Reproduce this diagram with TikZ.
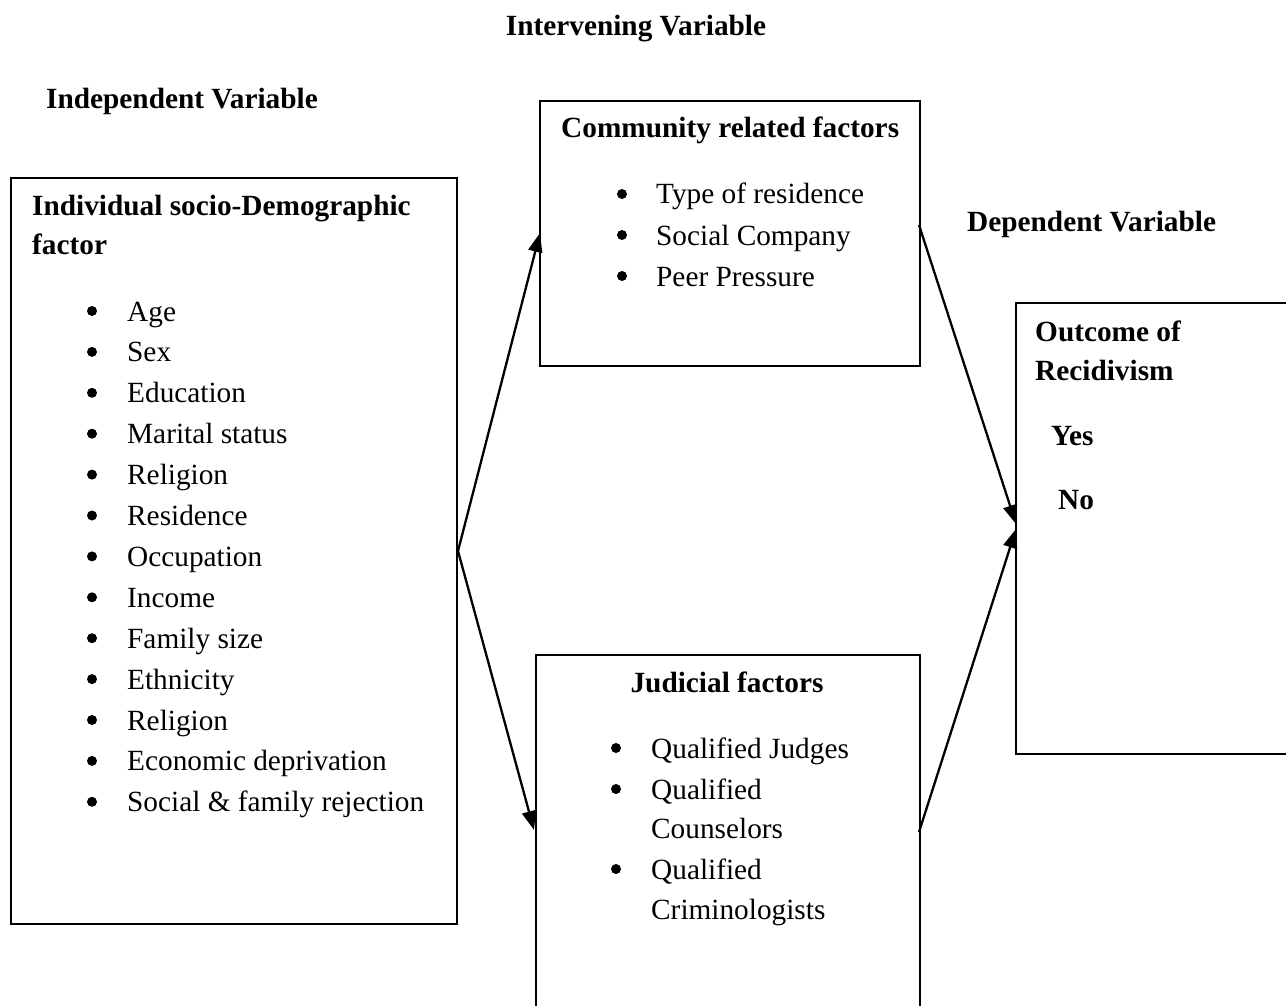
\documentclass[tikz,border=0pt]{standalone}
\usepackage{fontspec}
\setmainfont{Liberation Serif}
\usetikzlibrary{arrows.meta}
\begin{document}
\begin{tikzpicture}[x=1pt,y=-1pt,
  box/.style={draw,line width=2pt,anchor=north west,inner sep=0pt},
  txt/.style={anchor=base west,inner sep=0pt,font=\fontsize{29.3}{41}\selectfont},
  btxt/.style={txt,font=\fontsize{29.3}{41}\selectfont\bfseries},
  dot/.style={circle,fill,inner sep=0pt,minimum size=10pt},
  arr/.style={line width=2.3pt,-{Triangle[length=19pt,width=14pt]}}]
\useasboundingbox (0,0) rectangle (1286,1006);
\clip (0,0) rectangle (1286,1006);
% headings
\node[btxt,anchor=base] (hint) at (636,36) {Intervening Variable};
\node[btxt] (hind) at (46,109) {Independent Variable};
\node[btxt] (hdep) at (967,231) {Dependent Variable};
% boxes
\node[box,minimum width=446pt,minimum height=746pt] (ind) at (10,177) {};
\node[box,minimum width=380pt,minimum height=265pt] (comm) at (539,100) {};
\node[box,minimum width=384pt,minimum height=380pt] (jud) at (535,654) {};
\node[box,minimum width=320pt,minimum height=451pt] (out) at (1015,302) {};
% individual box
\node[btxt] (indt1) at (32,215) {Individual socio-Demographic};
\node[btxt] (indt2) at (32,254) {factor};
\foreach \t [count=\i from 0] in {Age,Sex,Education,Marital status,Religion,Residence,Occupation,Income,Family size,Ethnicity,Religion,Economic deprivation,Social \& family rejection}{
  \node[dot] (indb\i) at (92,{311+40.9*\i}) {};
  \node[txt] (indi\i) at (127,{321+40.9*\i}) {\t};
}
% community box
\node[btxt] (commt) at (561,138) {Community related factors};
\foreach \t [count=\i from 0] in {Type of residence,Social Company,Peer Pressure}{
  \node[dot] (commb\i) at (622,{194+41*\i}) {};
  \node[txt] (commi\i) at (656,{204+41*\i}) {\t};
}
% judicial box
\node[btxt,anchor=base] (judt) at (727,692) {Judicial factors};
\node[dot] (judb0) at (616,748) {};
\node[txt] (judi0) at (651,758) {Qualified Judges};
\node[dot] (judb1) at (616,789) {};
\node[txt] (judi1) at (651,799) {Qualified};
\node[txt] (judi1b) at (651,838) {Counselors};
\node[dot] (judb2) at (616,869) {};
\node[txt] (judi2) at (651,879) {Qualified};
\node[txt] (judi2b) at (651,919) {Criminologists};
% outcome box
\node[btxt] (outt1) at (1035,341) {Outcome of};
\node[btxt] (outt2) at (1035,380) {Recidivism};
\node[btxt] (yes) at (1051,445) {Yes};
\node[btxt] (no) at (1058,509) {No};
% connectors
\coordinate (src) at (ind.east);
\coordinate (ctip) at (540,233);
\coordinate (jtip) at (534,830);
\coordinate (csrc) at (919,225);
\coordinate (jsrc) at (919,832);
\coordinate (otip1) at (1016,524);
\coordinate (otip2) at (1016,529);
\draw[arr] (src) -- (ctip);
\draw[arr] (src) -- (jtip);
\draw[arr] (csrc) -- (otip1);
\draw[arr] (jsrc) -- (otip2);
\end{tikzpicture}
\end{document}
